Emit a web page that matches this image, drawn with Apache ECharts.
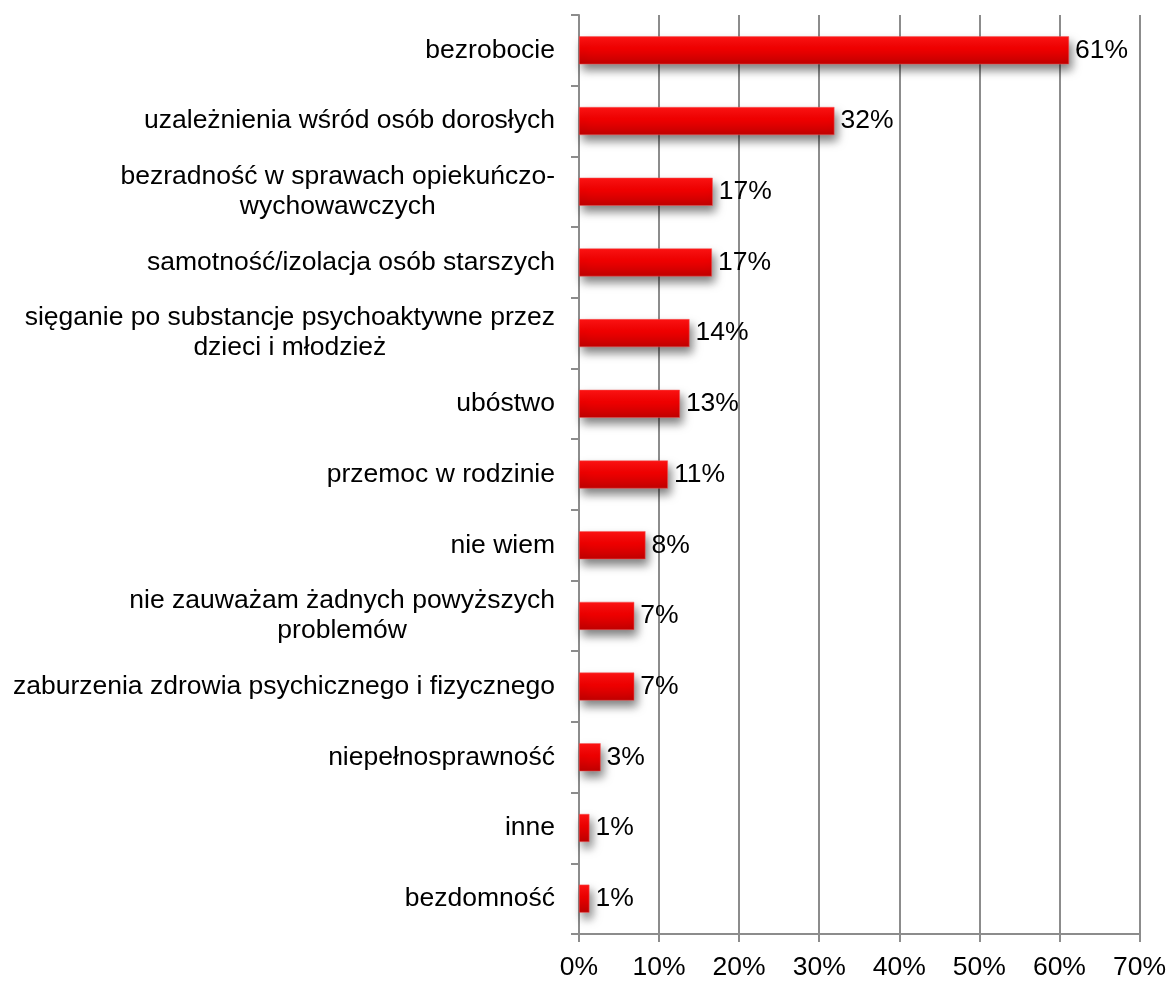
<!DOCTYPE html>
<html>
<head>
<meta charset="utf-8">
<script src="https://cdn.jsdelivr.net/npm/echarts@6.0.0/dist/echarts.min.js"></script>
<style>
  html, body { margin: 0; padding: 0; background: #fff; }
  #chart { width: 1169px; height: 981px; }
</style>
</head>
<body>
<div id="chart"></div>
<script>
// kategorie (od góry)
const categories = [
  'bezrobocie',
  'uzależnienia wśród osób dorosłych',
  'bezradność w sprawach opiekuńczo-\nwychowawczych',
  'samotność/izolacja osób starszych',
  'sięganie po substancje psychoaktywne przez\ndzieci i młodzież',
  'ubóstwo',
  'przemoc w rodzinie',
  'nie wiem',
  'nie zauważam żadnych powyższych\nproblemów',
  'zaburzenia zdrowia psychicznego i fizycznego',
  'niepełnosprawność',
  'inne',
  'bezdomność'
]
const values = [61.2, 31.9, 16.7, 16.6, 13.8, 12.6, 11.1, 8.3, 6.9, 6.9, 2.7, 1.3, 1.3]
const xTicks = [0, 10, 20, 30, 40, 50, 60, 70]

const FONT = "'Liberation Sans', Arial, sans-serif"
const GRAY = '#8c8c8c'

const chart = echarts.init(document.getElementById('chart'))

const option = {
  animation: false,
  grid: {
    left: 579,
    right: 29,
    top: 15,
    bottom: 44
  },
  xAxis: {
    type: 'value',
    min: xTicks[0],
    max: xTicks[xTicks.length - 1],
    interval: 10,
    axisLine: { show: true, lineStyle: { color: GRAY, width: 2 } },
    axisTick: { show: true, length: 8, lineStyle: { color: GRAY, width: 2 } },
    splitLine: { show: true, lineStyle: { color: GRAY, width: 2 } },
    axisLabel: {
      formatter: '{value}%',
      fontSize: 26.5,
      fontFamily: FONT,
      color: '#000',
      margin: 20
    }
  },
  yAxis: {
    type: 'category',
    inverse: true,
    data: categories,
    axisLine: { show: true, lineStyle: { color: GRAY, width: 2 } },
    axisTick: { show: true, length: 8, alignWithLabel: false, lineStyle: { color: GRAY, width: 2 } },
    axisLabel: {
      fontSize: 26.5,
      fontFamily: FONT,
      color: '#000',
      margin: 24,
      lineHeight: 30,
      // każda linia wyśrodkowana w bloku wyrównanym do prawej
      formatter: (v) => v.split('\n').map((s) => '{c|' + s + '}').join('\n'),
      rich: {
        c: { align: 'center', fontSize: 26.5, fontFamily: FONT, color: '#000', lineHeight: 30 }
      }
    }
  },
  series: [
    {
      type: 'bar',
      data: values,
      barWidth: 28,
      itemStyle: {
        color: new echarts.graphic.LinearGradient(0, 0, 0, 1, [
          { offset: 0, color: '#ff1414' },
          { offset: 0.45, color: '#f00000' },
          { offset: 1, color: '#c00000' }
        ]),
        borderColor: '#f25a5a',
        borderWidth: 0.5,
        shadowColor: 'rgba(0,0,0,0.5)',
        shadowBlur: 10,
        shadowOffsetX: 3,
        shadowOffsetY: 6
      },
      label: {
        show: true,
        position: 'right',
        distance: 6,
        formatter: (p) => Math.round(p.value) + '%',
        fontSize: 26.5,
        fontFamily: FONT,
        color: '#000'
      }
    }
  ]
}

chart.setOption(option)
</script>
</body>
</html>
